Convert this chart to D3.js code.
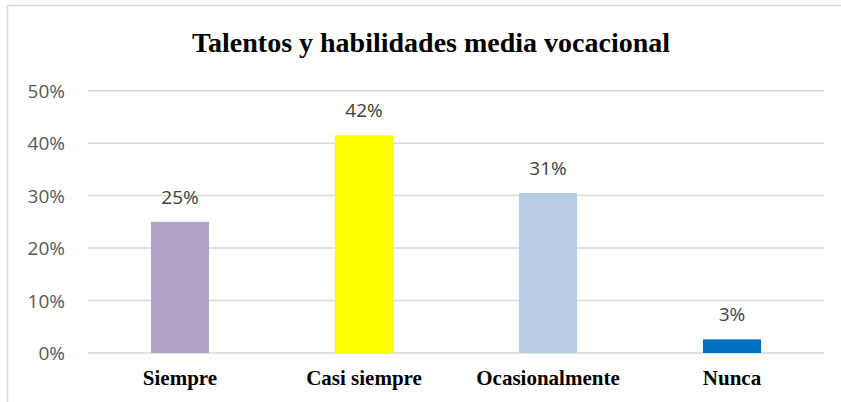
<!DOCTYPE html>
<html>
<head>
<meta charset="utf-8">
<script src="https://cdn.jsdelivr.net/npm/d3@7"></script>
<style>
  body { margin: 0; background: #fff; }
</style>
</head>
<body>
<div id="chart"></div>
<script>
const categories = ['Siempre', 'Casi siempre', 'Ocasionalmente', 'Nunca']
const values = [25, 41.5, 30.5, 2.6]
const colors = ['#b3a2c7', '#ffff00', '#b9cde5', '#0070c0']
const yTicks = [0, 10, 20, 30, 40, 50]
const title = 'Talentos y habilidades media vocacional'

const width = 841
const height = 402

const svg = d3.select('#chart')
  .append('svg')
  .attr('width', width)
  .attr('height', height)

// chart frame (cut off at right and bottom)
svg.append('path')
  .attr('d', `M7.5,${height} V5.5 H${width}`)
  .attr('fill', 'none')
  .attr('stroke', '#d9d9d9')
  .attr('stroke-width', 1.5)

const x = d3.scaleBand()
  .domain(categories)
  .range([88, 824])
  .paddingInner(0.684)
  .paddingOuter(0.342)

const y = d3.scaleLinear()
  .domain([0, 50])
  .range([353, 90.7])

// gridlines
svg.append('g')
  .selectAll('line')
  .data(yTicks)
  .join('line')
  .attr('x1', 88)
  .attr('x2', 824)
  .attr('y1', (d) => y(d))
  .attr('y2', (d) => y(d))
  .attr('stroke', '#d9d9d9')
  .attr('stroke-width', 1.5)

// y axis labels
svg.append('g')
  .selectAll('text')
  .data(yTicks)
  .join('text')
  .attr('x', 65)
  .attr('y', (d) => y(d) + 7)
  .attr('text-anchor', 'end')
  .style('font-family', '"Open Sans", sans-serif')
  .style('font-size', '19px')
  .style('fill', '#595959')
  .text((d) => d + '%')

// bars
svg.append('g')
  .selectAll('rect')
  .data(values)
  .join('rect')
  .attr('x', (d, i) => x(categories[i]))
  .attr('y', (d) => y(d))
  .attr('width', x.bandwidth())
  .attr('height', (d) => y(0) - y(d))
  .attr('fill', (d, i) => colors[i])

// data labels
svg.append('g')
  .selectAll('text')
  .data(values)
  .join('text')
  .attr('x', (d, i) => x(categories[i]) + x.bandwidth() / 2)
  .attr('y', (d) => y(d) - 18)
  .attr('text-anchor', 'middle')
  .style('font-family', '"Open Sans", sans-serif')
  .style('font-size', '19px')
  .style('fill', '#404040')
  .text((d) => Math.round(d) + '%')

// category labels
svg.append('g')
  .selectAll('text')
  .data(categories)
  .join('text')
  .attr('x', (d) => x(d) + x.bandwidth() / 2)
  .attr('y', 385)
  .attr('text-anchor', 'middle')
  .style('font-family', '"Liberation Serif", "Times New Roman", serif')
  .style('font-weight', 'bold')
  .style('font-size', '21px')
  .style('fill', '#000')
  .text((d) => d)

svg.append('text')
  .attr('x', 431)
  .attr('y', 52)
  .attr('text-anchor', 'middle')
  .style('font-family', '"Liberation Serif", "Times New Roman", serif')
  .style('font-weight', 'bold')
  .style('font-size', '28px')
  .style('fill', '#000')
  .text(title)
</script>
</body>
</html>
